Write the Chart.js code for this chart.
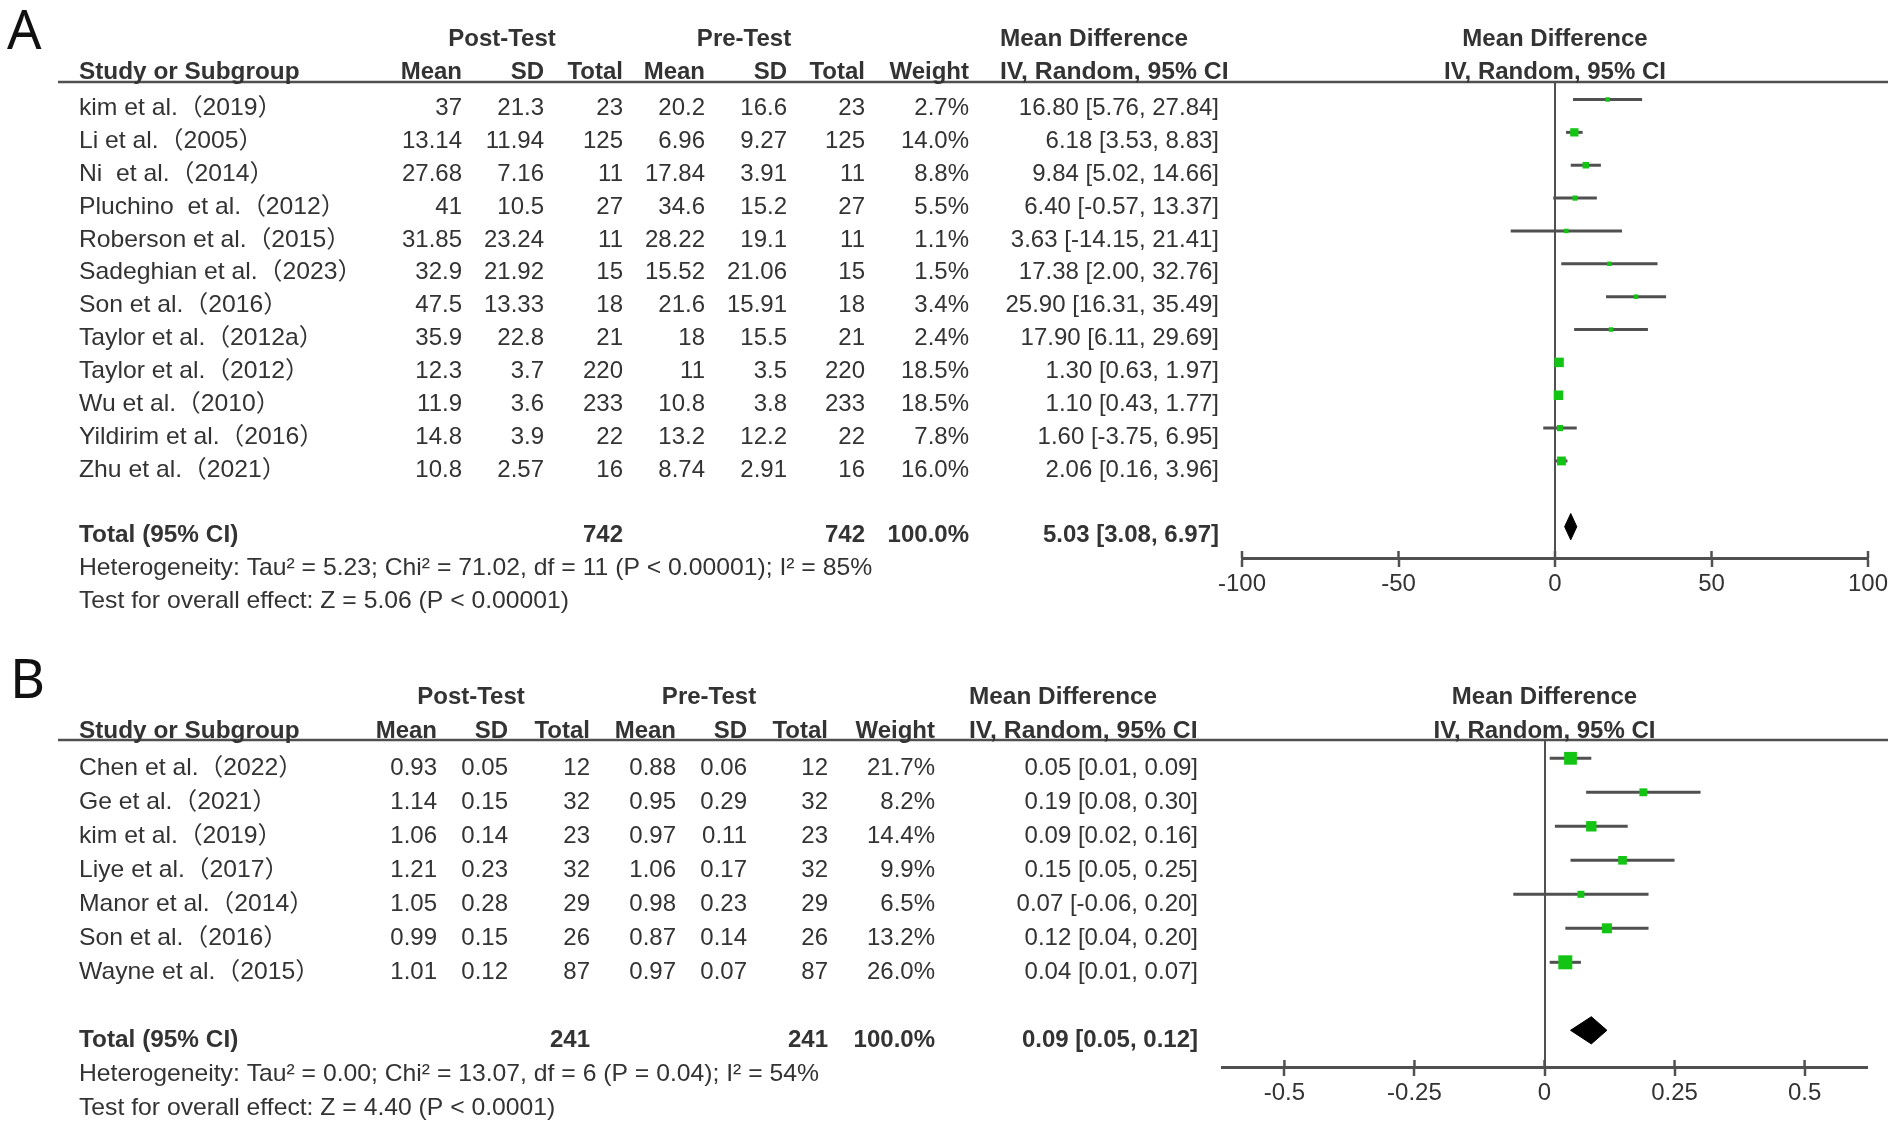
<!DOCTYPE html>
<html><head><meta charset="utf-8">
<script src="https://cdn.jsdelivr.net/npm/chart.js@4.4.1/dist/chart.umd.min.js"></script>
<style>
html,body{margin:0;padding:0;background:#fff;}
#wrap{position:relative;width:1902px;height:1137px;overflow:hidden;background:#fff;}
.panel{position:absolute;left:0;width:1902px;}
#pA{top:0;height:620px;}
#pB{top:620px;height:517px;}
</style></head><body>
<div id="wrap">
  <div class="panel" id="pA"><canvas id="cA"></canvas></div>
  <div class="panel" id="pB"><canvas id="cB"></canvas></div>
</div>
<script>
// ---------------- DATA: panel A ----------------
const studiesA = ["kim et al.（2019）","Li et al.（2005）","Ni  et al.（2014）","Pluchino  et al.（2012）","Roberson et al.（2015）","Sadeghian et al.（2023）","Son et al.（2016）","Taylor et al.（2012a）","Taylor et al.（2012）","Wu et al.（2010）","Yildirim et al.（2016）","Zhu et al.（2021）"];
const postMeanA = [37,13.14,27.68,41,31.85,32.9,47.5,35.9,12.3,11.9,14.8,10.8];
const postSDA   = [21.3,11.94,7.16,10.5,23.24,21.92,13.33,22.8,3.7,3.6,3.9,2.57];
const postNA    = [23,125,11,27,11,15,18,21,220,233,22,16];
const preMeanA  = [20.2,6.96,17.84,34.6,28.22,15.52,21.6,18,11,10.8,13.2,8.74];
const preSDA    = [16.6,9.27,3.91,15.2,19.1,21.06,15.91,15.5,3.5,3.8,12.2,2.91];
const preNA     = [23,125,11,27,11,15,18,21,220,233,22,16];
const weightA   = [2.7,14.0,8.8,5.5,1.1,1.5,3.4,2.4,18.5,18.5,7.8,16.0];
const mdA       = [16.80,6.18,9.84,6.40,3.63,17.38,25.90,17.90,1.30,1.10,1.60,2.06];
const loA       = [5.76,3.53,5.02,-0.57,-14.15,2.00,16.31,6.11,0.63,0.43,-3.75,0.16];
const hiA       = [27.84,8.83,14.66,13.37,21.41,32.76,35.49,29.69,1.97,1.77,6.95,3.96];
const totalA    = {postN:742, preN:742, weight:100.0, md:5.03, lo:3.08, hi:6.97};
const hetA      = "Heterogeneity: Tau² = 5.23; Chi² = 71.02, df = 11 (P < 0.00001); I² = 85%";
const testA     = "Test for overall effect: Z = 5.06 (P < 0.00001)";
const ticksA    = [-100,-50,0,50,100];

// ---------------- DATA: panel B ----------------
const studiesB = ["Chen et al.（2022）","Ge et al.（2021）","kim et al.（2019）","Liye et al.（2017）","Manor et al.（2014）","Son et al.（2016）","Wayne et al.（2015）"];
const postMeanB = [0.93,1.14,1.06,1.21,1.05,0.99,1.01];
const postSDB   = [0.05,0.15,0.14,0.23,0.28,0.15,0.12];
const postNB    = [12,32,23,32,29,26,87];
const preMeanB  = [0.88,0.95,0.97,1.06,0.98,0.87,0.97];
const preSDB    = [0.06,0.29,0.11,0.17,0.23,0.14,0.07];
const preNB     = [12,32,23,32,29,26,87];
const weightB   = [21.7,8.2,14.4,9.9,6.5,13.2,26.0];
const mdB       = [0.05,0.19,0.09,0.15,0.07,0.12,0.04];
const loB       = [0.01,0.08,0.02,0.05,-0.06,0.04,0.01];
const hiB       = [0.09,0.30,0.16,0.25,0.20,0.20,0.07];
const totalB    = {postN:241, preN:241, weight:100.0, md:0.09, lo:0.05, hi:0.12};
const hetB      = "Heterogeneity: Tau² = 0.00; Chi² = 13.07, df = 6 (P = 0.04); I² = 54%";
const testB     = "Test for overall effect: Z = 4.40 (P < 0.0001)";
const ticksB    = [-0.5,-0.25,0,0.25,0.5];

// ---------------- STYLE / LAYOUT ----------------
const FONT = '"Liberation Sans", Arial, "Noto Sans CJK SC", sans-serif';
const TXT = '#333333';
const LINE = '#505050';
const GREEN = '#14c414';
const WORD_STRETCH = 1.03;

const layoutA = {
  id:'A', letter:'A', letterX:7, letterBase:49, height:620,
  pad:{left:1242,right:34,top:82,bottom:12}, yMin:0.4674, yMax:14.953, textDy:9,
  xMin:-100, xMax:100, ticks:ticksA, boxMax:9.5, boxMin:4.5,
  nameX:79, cols:[462,544,623,705,787,865,969,1219], ciHeadLeft:1000,
  postC:502, preC:744, lineX0:58, lineX1:1888
};
const layoutB = {
  id:'B', letter:'B', letterX:10, letterBase:78, height:517,
  pad:{left:1222,right:35,top:120,bottom:20}, yMin:0.4618, yMax:10.079, textDy:10,
  xMin:-0.62, xMax:0.62, ticks:ticksB, boxMax:14, boxMin:5,
  nameX:79, cols:[437,508,590,676,747,828,935,1198], ciHeadLeft:969,
  postC:471, preC:709, lineX0:58, lineX1:1888
};

function fmtCI(m,l,h){ return m.toFixed(2)+' ['+l.toFixed(2)+', '+h.toFixed(2)+']'; }

function txt(ctx, s, x, y, align, bold, sx){
  ctx.save();
  ctx.font = (bold ? 'bold ' : '') + '24px ' + FONT;
  ctx.textAlign = align;
  ctx.textBaseline = 'middle';
  ctx.fillStyle = TXT;
  ctx.translate(x, y);
  if (sx) ctx.scale(sx, 1);
  ctx.fillText(s, 0, 0);
  ctx.restore();
}

function tablePlugin(L, D){
  return {
    id: 'forestTable' + L.id,
    afterDraw(chart){
      const ctx = chart.ctx, ys = chart.scales.y, xs = chart.scales.x, ca = chart.chartArea;
      const Y = r => ys.getPixelForValue(r) + L.textDy;
      ctx.save();
      // panel letter
      ctx.fillStyle = '#111';
      ctx.font = '54px "Noto Sans", "DejaVu Sans", sans-serif';
      ctx.textAlign = 'left'; ctx.textBaseline = 'alphabetic';
      ctx.fillText(L.letter, L.letterX, L.letterBase);
      // header rule
      ctx.strokeStyle = LINE; ctx.lineWidth = 2.5;
      ctx.beginPath(); ctx.moveTo(L.lineX0, ca.top); ctx.lineTo(L.lineX1, ca.top); ctx.stroke();
      // upward parts of axis ticks
      xs.ticks.forEach(t => {
        const x = xs.getPixelForValue(t.value);
        ctx.beginPath(); ctx.moveTo(x, ca.bottom); ctx.lineTo(x, ca.bottom - 7); ctx.stroke();
      });
      const c = L.cols, zeroX = xs.getPixelForValue(0);
      // header row 1
      const h1 = Y(-1.1), h2 = Y(-0.1);
      txt(ctx,'Post-Test',L.postC,h1,'center',true);
      txt(ctx,'Pre-Test',L.preC,h1,'center',true);
      txt(ctx,'Mean Difference',L.ciHeadLeft,h1,'left',true,1.015);
      txt(ctx,'Mean Difference',zeroX,h1,'center',true);
      // header row 2
      txt(ctx,'Study or Subgroup',L.nameX,h2,'left',true,1.015);
      ['Mean','SD','Total','Mean','SD','Total','Weight'].forEach((s,i)=>txt(ctx,s,c[i],h2,'right',true));
      txt(ctx,'IV, Random, 95% CI',L.ciHeadLeft,h2,'left',true,WORD_STRETCH);
      txt(ctx,'IV, Random, 95% CI',zeroX,h2,'center',true);
      // study rows
      D.studies.forEach((s,i)=>{
        const y = Y(i+1);
        txt(ctx,s,L.nameX,y,'left',false,WORD_STRETCH);
        const vals = [String(D.postMean[i]),String(D.postSD[i]),String(D.postN[i]),
                      String(D.preMean[i]),String(D.preSD[i]),String(D.preN[i]),
                      D.weight[i].toFixed(1)+'%', fmtCI(D.md[i],D.lo[i],D.hi[i])];
        vals.forEach((v,k)=>txt(ctx,v,c[k],y,'right',false));
      });
      // total rows
      const n = D.studies.length;
      const yt = Y(n+2);
      txt(ctx,'Total (95% CI)',L.nameX,yt,'left',true,1.015);
      txt(ctx,String(D.total.postN),c[2],yt,'right',true);
      txt(ctx,String(D.total.preN),c[5],yt,'right',true);
      txt(ctx,D.total.weight.toFixed(1)+'%',c[6],yt,'right',true);
      txt(ctx,fmtCI(D.total.md,D.total.lo,D.total.hi),c[7],yt,'right',true);
      txt(ctx,D.het,L.nameX,Y(n+3),'left',false,WORD_STRETCH);
      txt(ctx,D.test,L.nameX,Y(n+4),'left',false,WORD_STRETCH);
      ctx.restore();
    }
  };
}

function buildChart(canvasId, L, D){
  const n = D.studies.length;
  const wMax = Math.max(...D.weight);
  const radii = D.weight.map(w => Math.max(L.boxMin, L.boxMax*Math.sqrt(w/wMax)) / Math.SQRT2);
  const datasets = [];
  datasets.push({
    type:'scatter', order:0,
    data: D.md.map((m,i)=>({x:m, y:i+1})),
    pointStyle:'rect', pointRadius: radii, pointHoverRadius: radii,
    backgroundColor: GREEN, borderWidth:0
  });
  D.lo.forEach((l,i)=>{
    datasets.push({
      type:'line', order:2, showLine:true,
      data:[{x:l, y:i+1},{x:D.hi[i], y:i+1}],
      borderColor: LINE, borderWidth:3, pointRadius:0, fill:false
    });
  });
  const ty = n + 2, dh = 0.4;
  datasets.push({
    type:'line', order:1, showLine:true,
    data:[{x:D.total.lo,y:ty},{x:D.total.md,y:ty-dh},{x:D.total.hi,y:ty},{x:D.total.md,y:ty+dh},{x:D.total.lo,y:ty}],
    borderColor:'#000', backgroundColor:'#000', borderWidth:1, pointRadius:0, fill:'shape', tension:0
  });
  return new Chart(document.getElementById(canvasId), {
    type:'scatter',
    data:{datasets},
    options:{
      responsive:true, maintainAspectRatio:false, animation:false, devicePixelRatio:1,
      events:[],
      layout:{padding:L.pad},
      plugins:{legend:{display:false}, tooltip:{enabled:false}},
      scales:{
        x:{
          type:'linear', min:L.xMin, max:L.xMax,
          afterBuildTicks: s => { s.ticks = L.ticks.map(v=>({value:v})); },
          afterFit: s => { s.height = 50; },
          grid:{
            drawOnChartArea:true, drawTicks:true, tickLength:9,
            color: ctx => (ctx.tick && ctx.tick.value === 0) ? LINE : 'rgba(0,0,0,0)',
            lineWidth:2, tickColor:LINE, tickWidth:2.5
          },
          border:{display:true, color:LINE, width:3},
          ticks:{font:{family:FONT,size:24}, color:TXT, padding:3, maxRotation:0, autoSkip:false,
                 callback: v => String(v)}
        },
        y:{type:'linear', display:false, reverse:true, min:L.yMin, max:L.yMax}
      }
    },
    plugins:[tablePlugin(L,D)]
  });
}

buildChart('cA', layoutA, {studies:studiesA, postMean:postMeanA, postSD:postSDA, postN:postNA,
  preMean:preMeanA, preSD:preSDA, preN:preNA, weight:weightA, md:mdA, lo:loA, hi:hiA,
  total:totalA, het:hetA, test:testA});
buildChart('cB', layoutB, {studies:studiesB, postMean:postMeanB, postSD:postSDB, postN:postNB,
  preMean:preMeanB, preSD:preSDB, preN:preNB, weight:weightB, md:mdB, lo:loB, hi:hiB,
  total:totalB, het:hetB, test:testB});
</script>
</body></html>
